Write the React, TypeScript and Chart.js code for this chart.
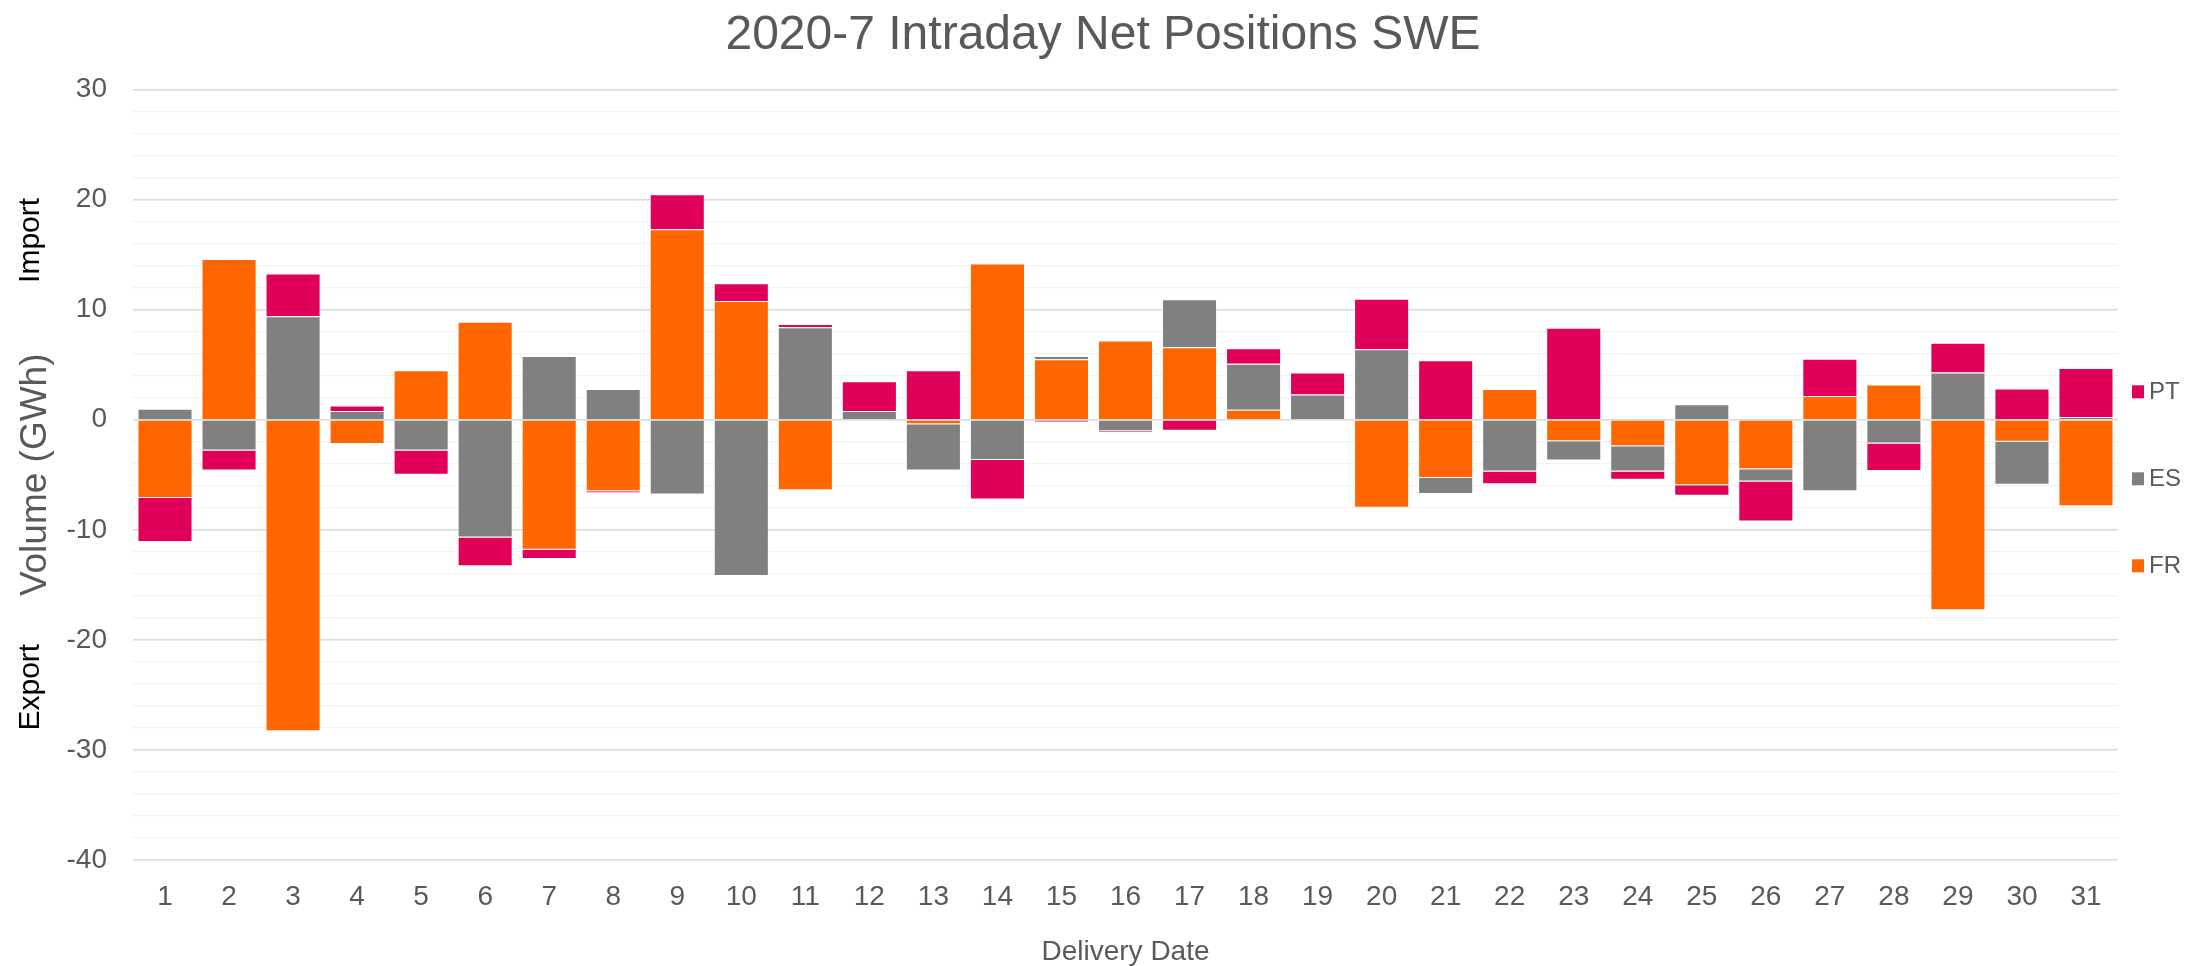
import React, { useEffect, useRef } from "react";
import { Chart, registerables } from "chart.js";

Chart.register(...registerables);

const days: string[] = Array.from({ length: 31 }, (_, i) => String(i + 1));

const frValues: number[] = [
  -7.1, 14.6, -28.3, -2.2, 4.5, 8.9, -11.8, -6.5, 17.3, 10.8, -6.4, -0.1, -0.4, 14.2, 5.5, 7.2,
  6.6, 0.9, 0, -8.0, -5.3, 2.8, -1.95, -2.4, -5.95, -4.5, 2.15, 3.2, -17.3, -2.0, -7.85,
];
const esValues: number[] = [
  1.0, -2.8, 9.4, 0.8, -2.8, -10.7, 5.8, 2.8, -6.8, -14.2, 8.4, 0.8, -4.2, -3.65, 0.3, -1.05,
  4.35, 4.2, 2.3, 6.4, -1.45, -4.7, -1.75, -2.3, 1.4, -1.1, -6.5, -2.15, 4.3, -3.9, 0.25,
];
const ptValues: number[] = [
  -4.0, -1.8, 3.9, 0.5, -2.2, -2.6, -0.85, -0.15, 3.2, 1.6, 0.3, 2.7, 4.5, -3.6, -0.25, -0.1,
  -1.0, 1.4, 2.0, 4.6, 5.4, -1.15, 8.35, -0.75, -0.95, -3.65, 3.4, -2.5, 2.7, 2.85, 4.45,
];

const seriesNames = ["FR", "ES", "PT"];
const seriesColors = ["#FF6600", "#808080", "#E0005A"];

const yMin = -40;
const yMax = 30;
const yStep = 2;

const FONT = '"Liberation Sans", Arial, sans-serif';
const TEXT_GREY = "#595959";

const sideLegend = {
  id: "sideLegend",
  afterDraw(chart: any) {
    const { ctx, chartArea } = chart;
    const ds = chart.data.datasets.slice().reverse();
    const mid = (chartArea.top + chartArea.bottom) / 2 + 4;
    const gap = 87;
    ctx.save();
    ds.forEach((d: any, i: number) => {
      const y = mid + (i - 1) * gap;
      ctx.fillStyle = d.backgroundColor;
      ctx.fillRect(chartArea.right + 14, y - 6.5, 12, 13);
      ctx.fillStyle = TEXT_GREY;
      ctx.font = `24px ${FONT}`;
      ctx.textBaseline = "middle";
      ctx.textAlign = "left";
      ctx.fillText(d.label, chartArea.right + 31, y + 1);
    });
    ctx.restore();
  },
};

const sideNotes = {
  id: "sideNotes",
  afterDraw(chart: any) {
    const { ctx } = chart;
    const y = chart.scales.y;
    const notes: [string, number][] = [
      ["Import", 16.3],
      ["Export", -24.3],
    ];
    ctx.save();
    ctx.fillStyle = "#000000";
    ctx.font = `30px ${FONT}`;
    ctx.textAlign = "center";
    ctx.textBaseline = "middle";
    notes.forEach(([t, v]) => {
      ctx.save();
      ctx.translate(31, y.getPixelForValue(v));
      ctx.rotate(-Math.PI / 2);
      ctx.fillText(t, 0, 0);
      ctx.restore();
    });
    ctx.restore();
  },
};

export default function App() {
  const ref = useRef<HTMLCanvasElement | null>(null);

  useEffect(() => {
    if (!ref.current) return;
    const values = [frValues, esValues, ptValues];
    const chart = new Chart(ref.current, {
      type: "bar",
      data: {
        labels: days,
        datasets: seriesNames.map((name, i) => ({
          label: name,
          data: values[i],
          backgroundColor: seriesColors[i],
          borderColor: "rgba(255,255,255,0.55)",
          borderWidth: 1,
          categoryPercentage: 1,
          barPercentage: 0.86,
          yAxisID: "y",
        })),
      },
      options: {
        responsive: false,
        animation: false,
        layout: { padding: { left: 0, right: 0, top: 0, bottom: 0 } },
        plugins: {
          legend: { display: false },
          tooltip: { enabled: false },
          title: {
            display: true,
            text: "2020-7 Intraday Net Positions SWE",
            color: TEXT_GREY,
            font: { family: FONT, size: 48, weight: "normal" },
            padding: { top: 7, bottom: 25 },
          },
        },
        scales: {
          x: {
            stacked: true,
            grid: { display: false },
            border: { display: false },
            ticks: {
              color: TEXT_GREY,
              font: { family: FONT, size: 28 },
              autoSkip: false,
              maxRotation: 0,
              padding: 12,
            },
            title: {
              display: true,
              text: "Delivery Date",
              color: TEXT_GREY,
              font: { family: FONT, size: 28, lineHeight: 1 },
              padding: { top: 0, bottom: 0 },
            },
            afterFit: (s: any) => {
              s.height = 106;
            },
          },
          y: {
            stacked: true,
            min: yMin,
            max: yMax,
            border: { display: false },
            grid: {
              drawTicks: false,
              color: (c: any) => (Math.round(c.tick.value) % 10 === 0 ? "#D9D9D9" : "#F2F2F2"),
              lineWidth: (c: any) => (Math.round(c.tick.value) % 10 === 0 ? 1.6 : 1.2),
            },
            ticks: {
              stepSize: yStep,
              autoSkip: false,
              color: TEXT_GREY,
              font: { family: FONT, size: 28 },
              padding: 26,
              callback: (v: any) => (Math.round(Number(v)) % 10 === 0 ? String(v) : ""),
            },
            title: {
              display: true,
              text: "Volume (GWh)",
              color: TEXT_GREY,
              font: { family: FONT, size: 37 },
              padding: { top: 14, bottom: 0 },
            },
            afterFit: (s: any) => {
              s.width = 133;
            },
          },
          legendSpace: {
            type: "linear",
            position: "right",
            display: true,
            min: yMin,
            max: yMax,
            grid: { display: false, drawOnChartArea: false },
            border: { display: false },
            ticks: { display: false },
            afterFit: (s: any) => {
              s.width = 88;
            },
          },
        },
      },
      plugins: [sideLegend, sideNotes],
    });
    return () => chart.destroy();
  }, []);

  return (
    <div style={{ position: "fixed", left: 0, top: 0, width: 2206, height: 966, background: "#fff" }}>
      <canvas ref={ref} width={2206} height={966} style={{ display: "block" }} />
    </div>
  );
}
